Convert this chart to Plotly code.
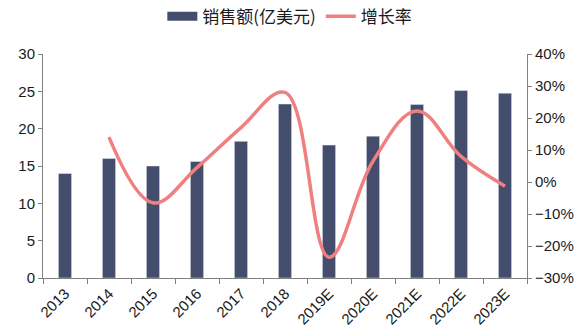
import plotly.graph_objects as go

years = ["2013", "2014", "2015", "2016", "2017", "2018", "2019E", "2020E", "2021E", "2022E", "2023E"]
sales = [14.0, 16.0, 15.0, 15.6, 18.3, 23.3, 17.8, 19.0, 23.25, 25.1, 24.75]
growth = [None, 0.140, -0.065, 0.045, 0.17, 0.28, -0.235, 0.065, 0.222, 0.08, -0.013]

bar_color = "#444D6B"
line_color = "#F08080"
axis_color = "#808080"
font = dict(family="Liberation Sans, Arial, sans-serif", size=15, color="#1a1a1a")
cjk = "Noto Sans CJK SC, Liberation Sans, sans-serif"

fig = go.Figure()
fig.add_trace(go.Bar(x=years, y=sales, name="销售额(亿美元)", marker_color=bar_color,
                     yaxis="y", showlegend=False))
# legend entry drawn as a wide block for the bar series
fig.add_trace(go.Scatter(x=[None], y=[None], name="销售额(亿美元)", mode="lines",
                         line=dict(color=bar_color, width=9), yaxis="y"))
fig.add_trace(go.Scatter(x=years, y=growth, name="增长率", mode="lines",
                         line=dict(color=line_color, width=3.5, shape="spline", smoothing=1.1),
                         yaxis="y2", connectgaps=False))

fig.update_layout(
    width=587, height=335,
    margin=dict(l=43, r=60, t=54, b=57),
    paper_bgcolor="white", plot_bgcolor="white",
    font=font,
    bargap=0.7,
    showlegend=True,
    legend=dict(orientation="h", x=0.51, xanchor="center", y=0.95, yanchor="middle",
                yref="container", font=dict(size=17, family=cjk), traceorder="normal"),
    xaxis=dict(type="category", showgrid=False, showline=True, linecolor=axis_color,
               ticks="outside", tickson="boundaries", ticklen=5, tickcolor=axis_color,
               tickangle=-45, tickfont=dict(size=15), automargin=False),
    yaxis=dict(range=[0, 30], dtick=5, showgrid=False, showline=True, linecolor=axis_color,
               ticks="outside", ticklen=4, tickcolor=axis_color, zeroline=False,
               tickfont=dict(size=15), automargin=False),
    yaxis2=dict(range=[-0.3, 0.4], dtick=0.1, tickformat=".0%", overlaying="y", side="right",
                showgrid=False, showline=True, linecolor=axis_color, ticks="outside", ticklen=4,
                tickcolor=axis_color, zeroline=False, tickfont=dict(size=15), automargin=False),
)

fig.write_html("out.html")
